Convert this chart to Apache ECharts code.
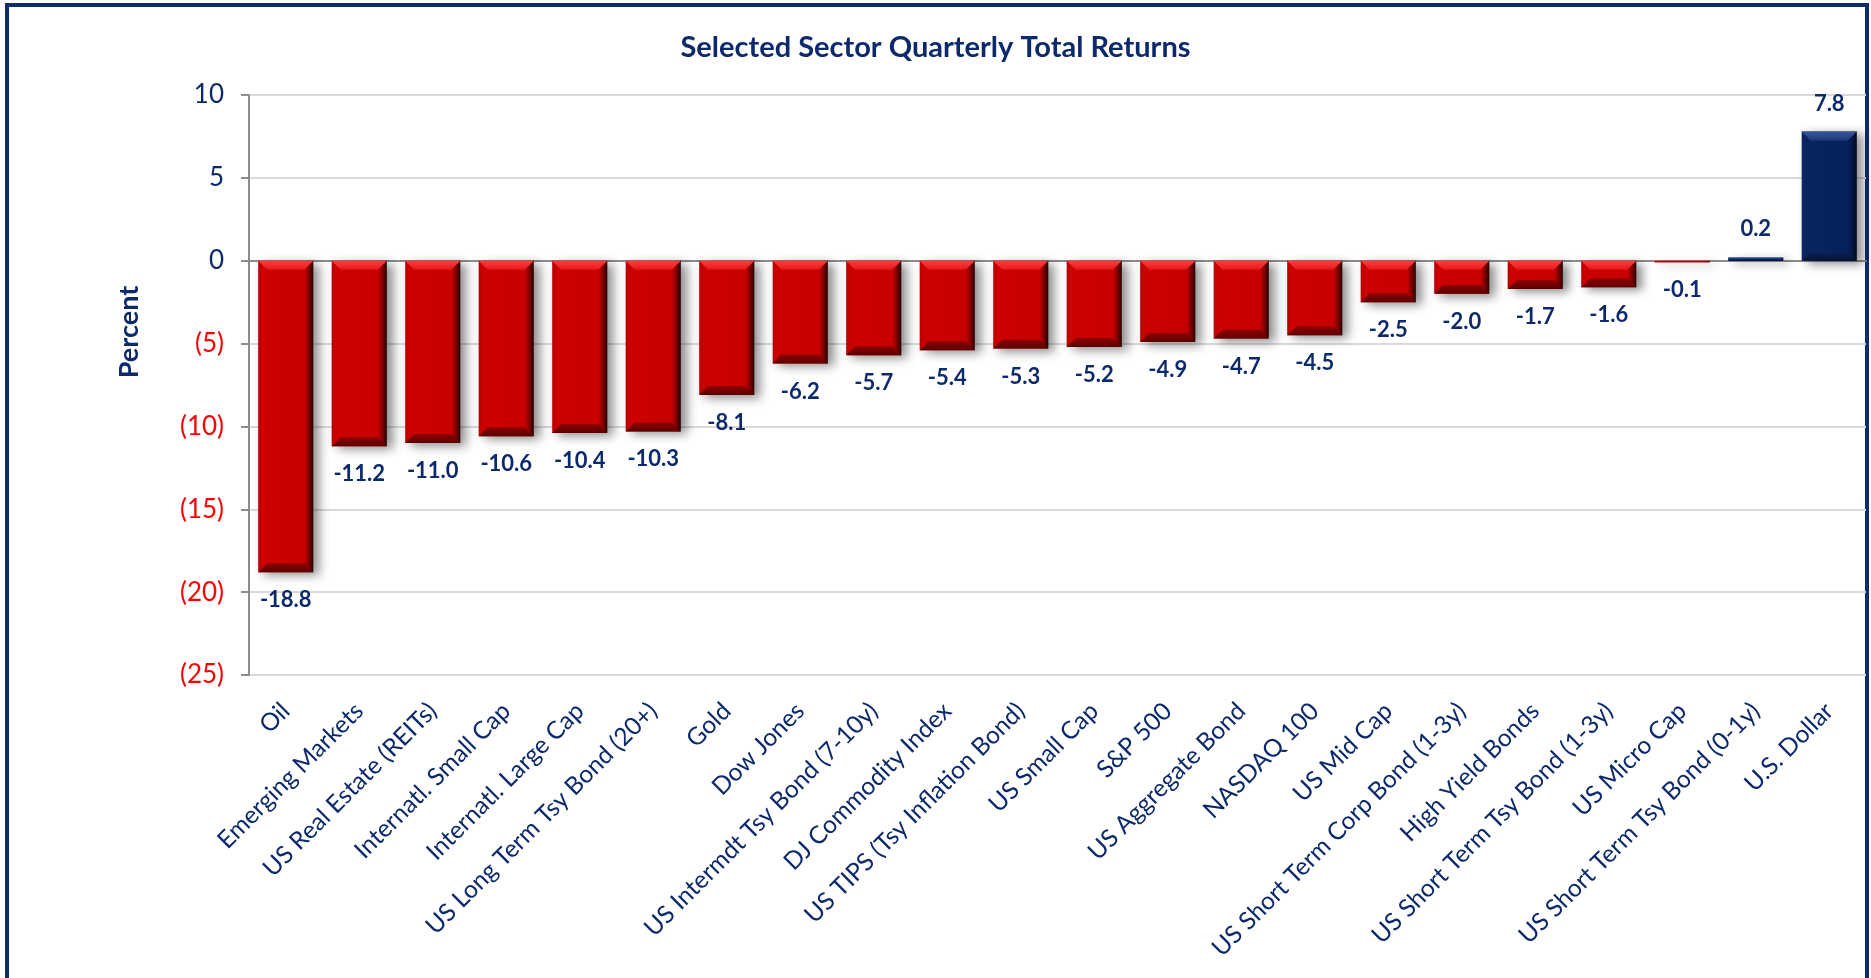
<!DOCTYPE html>
<html>
<head>
<meta charset="utf-8">
<script src="https://cdn.jsdelivr.net/npm/echarts@6/dist/echarts.min.js"></script>
<style>
  html, body { margin: 0; padding: 0; background: #fff; overflow: hidden; }
  .frame {
    position: absolute; left: 5px; top: 3px; width: 1864px; height: 1100px;
    border: 4px solid #0b2d6e; box-sizing: border-box;
  }
  #chart { position: absolute; left: 0; top: 0; width: 1871px; height: 978px; }
</style>
</head>
<body>
<div class="frame"></div>
<div id="chart"></div>
<script>
const sectors = [
  "Oil", "Emerging Markets", "US Real Estate (REITs)", "Internatl. Small Cap",
  "Internatl. Large Cap", "US Long Term Tsy Bond (20+)", "Gold", "Dow Jones",
  "US Intermdt Tsy Bond (7-10y)", "DJ Commodity Index", "US TIPS (Tsy Inflation Bond)",
  "US Small Cap", "S&P 500", "US Aggregate Bond", "NASDAQ 100", "US Mid Cap",
  "US Short Term Corp Bond (1-3y)", "High Yield Bonds", "US Short Term Tsy Bond (1-3y)",
  "US Micro Cap", "US Short Term Tsy Bond (0-1y)", "U.S. Dollar"
];
const returns = [
  -18.8, -11.2, -11.0, -10.6, -10.4, -10.3, -8.1, -6.2, -5.7, -5.4, -5.3,
  -5.2, -4.9, -4.7, -4.5, -2.5, -2.0, -1.7, -1.6, -0.1, 0.2, 7.8
];
const yMin = -25, yMax = 10, yStep = 5;

const navy = "#0c2a6b";
const font = "Lato";

const redFace = new echarts.graphic.LinearGradient(0, 0, 1, 0, [
  { offset: 0, color: "#b80000" },
  { offset: 0.08, color: "#cc0000" },
  { offset: 0.84, color: "#c80000" },
  { offset: 0.94, color: "#6a0000" },
  { offset: 1, color: "#220000" }
]);
const blueFace = new echarts.graphic.LinearGradient(0, 0, 1, 0, [
  { offset: 0, color: "#0a2668" },
  { offset: 0.08, color: "#08245f" },
  { offset: 0.84, color: "#06215c" },
  { offset: 0.94, color: "#04143a" },
  { offset: 1, color: "#010818" }
]);

const barData = returns.map(v => ({
  value: v,
  itemStyle: { color: v < 0 ? redFace : blueFace },
  label: { position: v < 0 ? "bottom" : "top" }
}));

// bevel highlights drawn on top of each bar
function renderBevel(params, api) {
  const i = api.value(0), v = api.value(1);
  const p0 = api.coord([i, 0]), p1 = api.coord([i, v]);
  const w = api.size([1, 0])[0] * 0.75;
  const x0 = p0[0] - w / 2, x1 = p0[0] + w / 2;
  const yTop = Math.min(p0[1], p1[1]), yBot = Math.max(p0[1], p1[1]);
  const d = Math.min(9, (yBot - yTop) / 2);
  const pos = v >= 0;
  return {
    type: "group",
    children: [
      {
        type: "polygon",
        shape: { points: [[x0, yTop], [x1, yTop], [x1 - d, yTop + d], [x0 + d, yTop + d]] },
        style: {
          fill: new echarts.graphic.LinearGradient(0, 0, 0, 1, pos
            ? [{ offset: 0, color: "#3a5898" }, { offset: 1, color: "#1c3a7c" }]
            : [{ offset: 0, color: "#ff4040" }, { offset: 1, color: "#e41818" }])
        }
      },
      {
        type: "polygon",
        shape: { points: [[x0 + d, yBot - d], [x1 - d, yBot - d], [x1, yBot], [x0, yBot]] },
        style: {
          fill: new echarts.graphic.LinearGradient(0, 0, 0, 1, pos
            ? [{ offset: 0, color: "#0a2258" }, { offset: 1, color: "#041235" }]
            : [{ offset: 0, color: "#8e0000" }, { offset: 1, color: "#5c0000" }])
        }
      }
    ]
  };
}

const chart = echarts.init(document.getElementById("chart"));
chart.setOption({
  animation: false,
  backgroundColor: "transparent",
  title: {
    text: "Selected Sector Quarterly Total Returns",
    left: "center",
    top: 28,
    textStyle: { color: navy, fontFamily: font, fontWeight: "bold", fontSize: 29 }
  },
  graphic: [
    {
      type: "text",
      x: 129, y: 332, rotation: Math.PI / 2,
      style: {
        text: "Percent", fill: navy, font: "bold 27px Lato",
        textAlign: "center", textVerticalAlign: "middle"
      }
    }
  ],
  grid: { left: 249, right: 5, top: 95, bottom: 303, containLabel: false, outerBoundsMode: "none" },
  xAxis: [
    {
      type: "category",
      data: sectors,
      position: "bottom",
      axisLine: { show: false, onZero: false },
      axisTick: { show: false },
      axisLabel: {
        interval: 0, rotate: 45, margin: 32,
        color: navy, fontFamily: font, fontSize: 24.5
      }
    },
    {
      type: "category",
      data: sectors,
      position: "bottom",
      axisLine: { onZero: true, lineStyle: { color: "#8c8c8c", width: 2 } },
      axisTick: { length: 7, lineStyle: { color: "#8c8c8c", width: 2 } },
      axisLabel: { show: false }
    },
    {
      type: "category",
      data: sectors,
      position: "top",
      axisLine: { show: false, onZero: true },
      axisTick: { alignWithLabel: true, length: 7, lineStyle: { color: "#8c8c8c", width: 2 } },
      axisLabel: { show: false }
    }
  ],
  yAxis: {
    type: "value",
    min: yMin, max: yMax, interval: yStep,
    axisLine: { show: true, onZero: false, lineStyle: { color: "#8c8c8c", width: 2 } },
    axisTick: { show: true, length: 8, lineStyle: { color: "#8c8c8c", width: 2 } },
    splitLine: { lineStyle: { color: "#d9d9d9", width: 2 } },
    axisLabel: {
      margin: 25,
      fontFamily: font, fontSize: 26,
      formatter: v => (v < 0 ? "(" + -v + ")" : String(v)),
      color: v => (Number(v) < 0 ? "#ff0000" : navy)
    }
  },
  series: [
    {
      type: "bar",
      data: barData,
      barWidth: "75%",
      itemStyle: {
        shadowColor: "rgba(0,0,0,0.45)",
        shadowBlur: 10,
        shadowOffsetX: 6,
        shadowOffsetY: 3
      },
      label: {
        show: true,
        distance: 17,
        color: navy, fontFamily: font, fontWeight: "bold", fontSize: 22,
        formatter: p => p.value.toFixed(1)
      },
      z: 2
    },
    {
      type: "custom",
      data: returns.map((v, i) => [i, v]),
      renderItem: renderBevel,
      silent: true,
      z: 3
    }
  ]
});
</script>
</body>
</html>
